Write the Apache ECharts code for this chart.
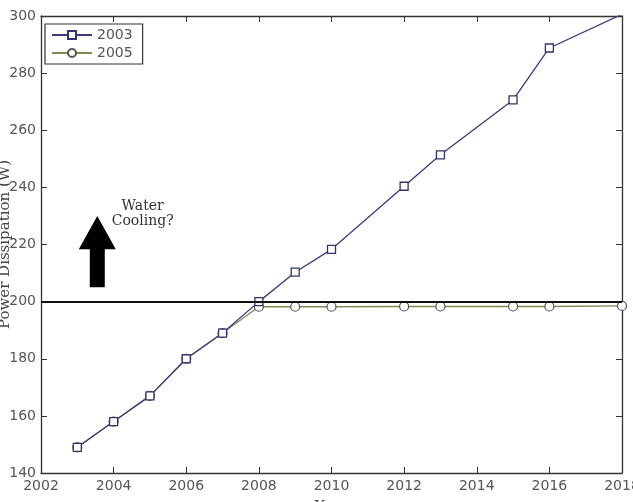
<!DOCTYPE html>
<html>
<head>
<meta charset="utf-8">
<script src="https://cdn.jsdelivr.net/npm/echarts@6/dist/echarts.min.js"></script>
<style>
  html, body { margin: 0; padding: 0; background: #fff; }
  #chart { width: 633px; height: 502px; }
</style>
</head>
<body>
<div id="chart"></div>
<script>
// data
var years2003 = [2003, 2004, 2005, 2006, 2007, 2008, 2009, 2010, 2012, 2013, 2015, 2016, 2018]
var power2003 = [149, 158, 167, 180, 189, 200, 210.3, 218.3, 240.4, 251.4, 270.6, 288.8, 300.6]
var years2005 = [2003, 2004, 2005, 2006, 2007, 2008, 2009, 2010, 2012, 2013, 2015, 2016, 2018]
var power2005 = [149, 158, 167, 180, 189, 198.2, 198.2, 198.2, 198.3, 198.3, 198.3, 198.3, 198.5]
var limitLine = 200
var xTicks = { min: 2002, max: 2018, step: 2 }
var yTicks = { min: 140, max: 300, step: 20 }
// annotation arrow (in data units): x, base, head start, tip
var arrow = { x: 2003.55, base: 205, head: 218.3, tip: 230 }
var noteText = 'Water\nCooling?'
var notePos = [2004.8, 230.7]

var tickFont = { fontFamily: 'DejaVu Sans', fontSize: 14, color: '#555' }
var axisLine = { lineStyle: { color: '#333', width: 1.3 } }

function pairs (xs, ys) {
  return xs.map(function (x, i) { return [x, ys[i]] })
}

var chart = echarts.init(document.getElementById('chart'))

var option = {
  animation: false,
  backgroundColor: '#fff',
  grid: { left: 41, right: 11, top: 16, bottom: 29, containLabel: false, outerBoundsMode: 'none' },
  legend: {
    left: 45,
    top: 24,
    orient: 'vertical',
    itemWidth: 40,
    itemHeight: 10,
    itemGap: 4,
    padding: [4, 10, 4, 6],
    borderColor: '#333',
    borderWidth: 1.2,
    borderRadius: 0,
    textStyle: { fontFamily: 'DejaVu Sans', fontSize: 14, color: '#555' },
    data: ['2003', '2005']
  },
  xAxis: [{
    type: 'value',
    min: xTicks.min,
    max: xTicks.max,
    interval: xTicks.step,
    name: 'Year',
    nameLocation: 'middle',
    nameGap: 27,
    nameMoveOverlap: false,
    nameTextStyle: { fontFamily: 'DejaVu Serif', fontSize: 15, color: '#444', verticalAlign: 'top' },
    axisLine: axisLine,
    axisTick: { inside: true, length: 6, lineStyle: { color: '#333' } },
    axisLabel: Object.assign({ margin: 6, formatter: function (v) { return String(v) } }, tickFont),
    splitLine: { show: false }
  }, {
    type: 'value',
    position: 'top',
    min: xTicks.min,
    max: xTicks.max,
    interval: xTicks.step,
    axisLine: axisLine,
    axisTick: { inside: true, length: 6, lineStyle: { color: '#333' } },
    axisLabel: { show: false },
    splitLine: { show: false }
  }],
  yAxis: [{
    type: 'value',
    min: yTicks.min,
    max: yTicks.max,
    interval: yTicks.step,
    name: 'Power Dissipation (W)',
    nameLocation: 'middle',
    nameGap: 28,
    nameMoveOverlap: false,
    nameTextStyle: { fontFamily: 'DejaVu Serif', fontSize: 15, color: '#444' },
    axisLine: axisLine,
    axisTick: { inside: true, length: 6, lineStyle: { color: '#333' } },
    axisLabel: Object.assign({ margin: 5 }, tickFont),
    splitLine: { show: false }
  }, {
    type: 'value',
    position: 'right',
    min: yTicks.min,
    max: yTicks.max,
    interval: yTicks.step,
    axisLine: axisLine,
    axisTick: { inside: true, length: 6, lineStyle: { color: '#333' } },
    axisLabel: { show: false },
    splitLine: { show: false }
  }],
  series: [{
    name: '2003',
    type: 'line',
    data: pairs(years2003, power2003),
    symbol: 'rect',
    symbolSize: 8,
    z: 4,
    lineStyle: { color: '#3a3a7e', width: 1.3 },
    itemStyle: { color: '#fff', borderColor: '#34346e', borderWidth: 1.3 },
    emphasis: { disabled: true },
    markLine: {
      silent: true,
      symbol: 'none',
      label: { show: false },
      lineStyle: { color: '#111', width: 2.2, type: 'solid' },
      data: [{ yAxis: limitLine }]
    }
  }, {
    name: '2005',
    type: 'line',
    data: pairs(years2005, power2005),
    symbol: 'circle',
    symbolSize: 9,
    z: 3,
    lineStyle: { color: '#7d8a52', width: 1.3 },
    itemStyle: { color: '#fff', borderColor: '#555', borderWidth: 1.2 },
    emphasis: { disabled: true }
  }, {
    type: 'custom',
    silent: true,
    data: [[arrow.x, arrow.base, arrow.head, arrow.tip]],
    renderItem: function (params, api) {
      var x = api.value(0)
      var pBase = api.coord([x, api.value(1)])
      var pHead = api.coord([x, api.value(2)])
      var pTip = api.coord([x, api.value(3)])
      var shaft = 7.5
      var head = 18.5
      var cx = pBase[0]
      return {
        type: 'polygon',
        shape: {
          points: [
            [cx - shaft, pBase[1]], [cx + shaft, pBase[1]],
            [cx + shaft, pHead[1]], [cx + head, pHead[1]],
            [cx, pTip[1]],
            [cx - head, pHead[1]], [cx - shaft, pHead[1]]
          ]
        },
        style: { fill: '#000' }
      }
    }
  }, {
    type: 'custom',
    silent: true,
    data: [notePos],
    renderItem: function (params, api) {
      var p = api.coord([api.value(0), api.value(1)])
      return {
        type: 'text',
        x: p[0],
        y: p[1],
        style: {
          text: noteText,
          fill: '#333',
          font: '14px "DejaVu Serif"',
          align: 'center',
          verticalAlign: 'middle',
          lineHeight: 15
        }
      }
    }
  }]
}

chart.setOption(option)
</script>
</body>
</html>
